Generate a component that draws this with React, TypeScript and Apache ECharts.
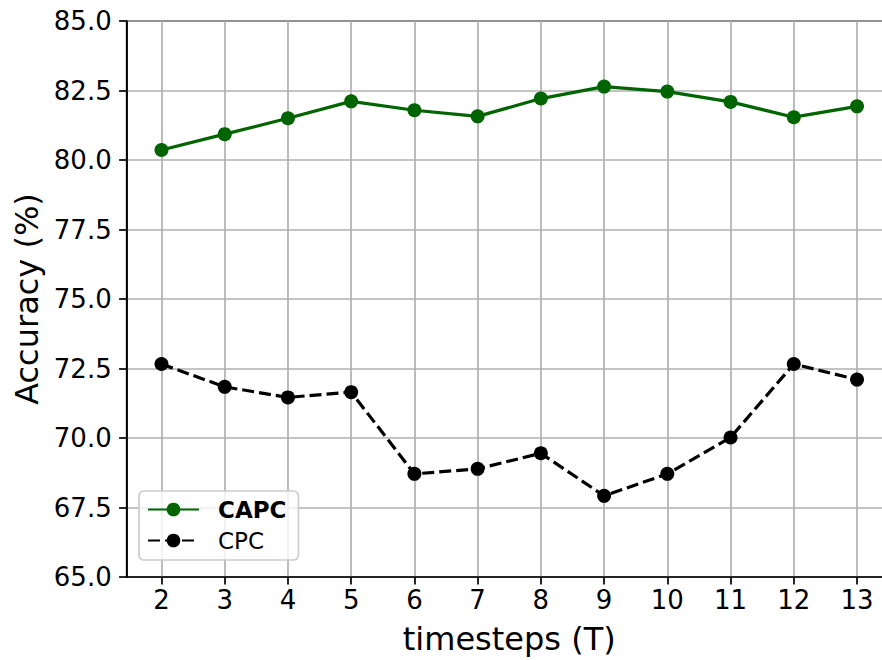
import React, { useEffect, useRef } from "react";
import * as echarts from "echarts";

const timesteps = [2, 3, 4, 5, 6, 7, 8, 9, 10, 11, 12, 13];
const capcAcc = [80.36, 80.93, 81.5, 82.11, 81.79, 81.57, 82.21, 82.64, 82.46, 82.09, 81.54, 81.93];
const cpcAcc = [72.66, 71.84, 71.46, 71.65, 68.71, 68.89, 69.45, 67.92, 68.71, 70.02, 72.66, 72.1];
const seriesNames = ["CAPC", "CPC"];

const FONT = "DejaVu Sans";

export default function App() {
  const ref = useRef<HTMLDivElement>(null);
  useEffect(() => {
    if (!ref.current) return;
    const chart = echarts.init(ref.current, null, { renderer: "svg" });
    const gridLine = { show: true, lineStyle: { color: "#b0b0b0", width: 1.7 } };
    chart.setOption({
      animation: false,
      backgroundColor: "#ffffff",
      grid: {
        left: 126.7,
        right: 8.2,
        top: 21,
        bottom: 80,
        show: true,
        borderColor: "#000",
        borderWidth: 1.7,
        backgroundColor: "transparent",
      },
      legend: {
        orient: "vertical",
        left: 139,
        top: 491,
        itemWidth: 51,
        itemHeight: 17,
        itemGap: 8,
        padding: [7, 12, 8, 8],
        backgroundColor: "rgba(255,255,255,0.8)",
        borderColor: "#cccccc",
        borderWidth: 1.7,
        borderRadius: 5,
        textStyle: { fontFamily: FONT, fontSize: 23, color: "#000", padding: [0, 0, 0, 14] },
        data: [
          { name: seriesNames[0], textStyle: { fontWeight: "bold" } },
          { name: seriesNames[1] },
        ],
      },
      xAxis: {
        type: "value",
        min: 1.45,
        max: 13.55,
        name: "timesteps (T)",
        nameLocation: "middle",
        nameGap: 46,
        nameTextStyle: { fontFamily: FONT, fontSize: 32, color: "#000" },
        axisLine: { show: true, onZero: false, lineStyle: { color: "#000", width: 1.7 } },
        axisTick: { show: true, length: 7.6, lineStyle: { color: "#000", width: 1.7 }, customValues: timesteps },
        axisLabel: { fontFamily: FONT, fontSize: 26, color: "#000", margin: 10, customValues: timesteps },
        splitLine: gridLine,
      },
      yAxis: {
        type: "value",
        min: 65,
        max: 85,
        interval: 2.5,
        name: "Accuracy (%)",
        nameLocation: "middle",
        nameGap: 82,
        nameTextStyle: { fontFamily: FONT, fontSize: 32, color: "#000" },
        axisLine: { show: true, lineStyle: { color: "#000", width: 1.7 } },
        axisTick: { show: true, length: 7.6, lineStyle: { color: "#000", width: 1.7 } },
        axisLabel: {
          fontFamily: FONT,
          fontSize: 26,
          color: "#000",
          margin: 15,
          formatter: (v: number) => v.toFixed(1),
        },
        splitLine: gridLine,
      },
      series: [
        {
          name: seriesNames[0],
          type: "line",
          data: timesteps.map((t, i) => [t, capcAcc[i]]),
          symbol: "circle",
          symbolSize: 14,
          itemStyle: { color: "#006400" },
          lineStyle: { color: "#006400", width: 3.2 },
          z: 3,
        },
        {
          name: seriesNames[1],
          type: "line",
          data: timesteps.map((t, i) => [t, cpcAcc[i]]),
          symbol: "circle",
          symbolSize: 14,
          itemStyle: { color: "#000000" },
          lineStyle: { color: "#000000", width: 3.2, type: [12, 5] },
          z: 3,
        },
      ],
    });
    return () => chart.dispose();
  }, []);
  return (
    <div style={{ position: "absolute", left: 0, top: 0, width: 882, height: 660, overflow: "hidden", background: "#fff" }}>
      <div ref={ref} style={{ width: 900, height: 660 }} />
    </div>
  );
}
